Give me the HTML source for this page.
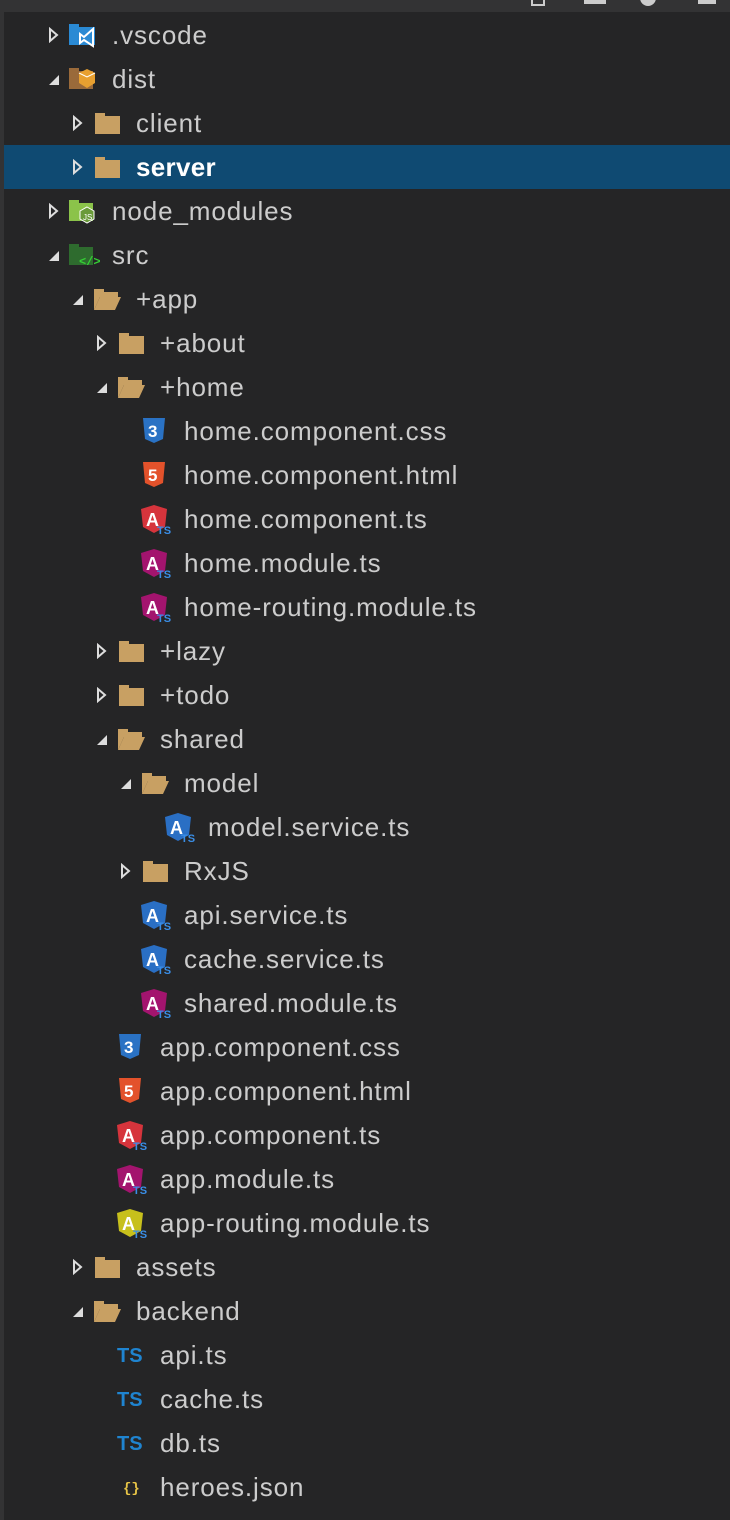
<!DOCTYPE html>
<html><head><meta charset="utf-8"><style>
body{margin:0;width:730px;height:1520px;background:#252526;overflow:hidden;font-family:"Liberation Sans","DejaVu Sans",sans-serif;position:relative}
.top{position:absolute;left:0;top:0;width:730px;height:12px;background:#333334}
.side{position:absolute;left:0;top:0;width:4px;height:1520px;background:#333334}
.r{position:absolute;left:4px;width:726px;height:44px}
.r span{position:absolute;top:8px;font-size:26px;letter-spacing:0.9px;color:#cccccc;line-height:28px;white-space:nowrap}
.r svg{position:absolute}
.hl{background:#0f4a72}
.hl span{color:#fff;font-weight:bold;letter-spacing:0.3px}
</style></head><body>
<div class="top"></div><div class="side"></div>
<svg style="position:absolute;left:530px;top:0" width="200" height="6"><rect x="2" y="-4" width="12" height="9" fill="none" stroke="#ccc" stroke-width="2"/><rect x="54" y="0" width="22" height="4" fill="#ccc"/><circle cx="118" cy="-2" r="8" fill="#ccc"/><rect x="168" y="0" width="18" height="4" fill="#ccc"/></svg>
<div id="tree"></div>
<script>
const rows=[
[".vscode",0,"c","vs"],["dist",0,"o","dist"],["client",1,"c","f"],["server",1,"c","f",1],["node_modules",0,"c","node"],["src",0,"o","src"],
["+app",1,"o","fo"],["+about",2,"c","f"],["+home",2,"o","fo"],
["home.component.css",3,"","css"],["home.component.html",3,"","html"],["home.component.ts",3,"","ar"],["home.module.ts",3,"","ap"],["home-routing.module.ts",3,"","ap"],
["+lazy",2,"c","f"],["+todo",2,"c","f"],["shared",2,"o","fo"],["model",3,"o","fo"],["model.service.ts",4,"","ab"],["RxJS",3,"c","f"],
["api.service.ts",3,"","ab"],["cache.service.ts",3,"","ab"],["shared.module.ts",3,"","ap"],
["app.component.css",2,"","css"],["app.component.html",2,"","html"],["app.component.ts",2,"","ar"],["app.module.ts",2,"","ap"],["app-routing.module.ts",2,"","ay"],
["assets",1,"c","f"],["backend",1,"o","fo"],["api.ts",2,"","ts"],["cache.ts",2,"","ts"],["db.ts",2,"","ts"],["heroes.json",2,"","json"]];
function icon(t){
 const F='#c8a063';
 switch(t){
 case 'f':return `<rect x="4" y="6" width="10" height="5" fill="${F}"/><rect x="4" y="9" width="25" height="18" fill="${F}"/>`;
 case 'fo':return `<path d="M3 6h10v3h14v5H9L3 27z" fill="${F}"/><path d="M9 14h21l-6 13H3z" fill="${F}"/>`;
 case 'vs':return `<rect x="2" y="5" width="10" height="5" fill="#2a8ad4"/><rect x="2" y="8" width="26" height="18" fill="#2a8ad4"/><path d="M26 10v17l-9-6 -4 3v-9l4 3z" fill="none" stroke="#fff" stroke-width="2"/>`;
 case 'dist':return `<rect x="2" y="5" width="10" height="5" fill="#9a6a3a"/><rect x="2" y="8" width="24" height="18" fill="#9a6a3a"/><path d="M12 10l8-4 8 4v10l-8 5-8-5z" fill="#e8a030"/><path d="M12 10l8 4 8-4" stroke="#fff" fill="none"/>`;
 case 'node':return `<rect x="2" y="5" width="10" height="5" fill="#8bc34a"/><rect x="2" y="8" width="24" height="18" fill="#8bc34a"/><path d="M20 12l7 4v8l-7 4-7-4v-8z" fill="#6a9a3a" stroke="#fff"/><text x="16" y="25" font-size="8" fill="#fff" font-family="Liberation Sans">JS</text>`;
 case 'src':return `<rect x="2" y="5" width="10" height="5" fill="#2e6b2e"/><rect x="2" y="8" width="24" height="18" fill="#2e6b2e"/><text x="12" y="26" font-size="12" font-weight="bold" fill="#35d035" font-family="Liberation Mono">&lt;/&gt;</text>`;
 case 'css':case 'html':{const c=t=='css'?'#2a72c4':'#e3522b';return `<path d="M4 3h22l-2 21-9 4-9-4z" fill="${c}"/><text x="9" y="22" font-size="17" font-weight="bold" fill="#fff" font-family="Liberation Sans">${t=='css'?3:5}</text>`;}
 case 'ar':case 'ap':case 'ab':case 'ay':{const c={ar:'#d6343c',ap:'#a3146e',ab:'#2a6fc4',ay:'#c7c01c'}[t];return `<path d="M15 2l13 4-2 18-11 6-11-6-2-18z" fill="${c}"/><text x="7" y="23" font-size="18" font-weight="bold" fill="#fff" font-family="Liberation Sans">A</text><text x="18" y="31" font-size="11" font-weight="bold" fill="#3a8ee6" font-family="Liberation Sans">TS</text>`;}
 case 'ts':return `<text x="2" y="23" font-size="20" font-weight="bold" fill="#1f84d0" font-family="Liberation Sans">TS</text>`;
 case 'json':return `<text x="8" y="21" font-size="14" font-weight="bold" fill="#e8c547" font-family="Liberation Mono">{}</text>`;
 }}
let h='';
rows.forEach((r,i)=>{
 const [n,L,a,ic,hl]=r;const top=13+44*i;
 let s=`<div class="r${hl?' hl':''}" style="top:${top}px">`;
 const ax=44+24*L;
 if(a=='c')s+=`<svg style="left:${ax}px;top:14px" width="12" height="16"><path d="M2 2l7 6-7 6z" fill="none" stroke="#ddd" stroke-width="2"/></svg>`;
 if(a=='o')s+=`<svg style="left:${ax}px;top:14px" width="12" height="16"><path d="M11 4v10H1z" fill="#ddd"/></svg>`;
 s+=`<svg style="left:${63+24*L}px;top:6px" width="34" height="34">${icon(ic)}</svg>`;
 s+=`<span style="left:${108+24*L}px">${n}</span></div>`;
 h+=s;
});
document.getElementById('tree').innerHTML=h;
</script>
</body></html>
